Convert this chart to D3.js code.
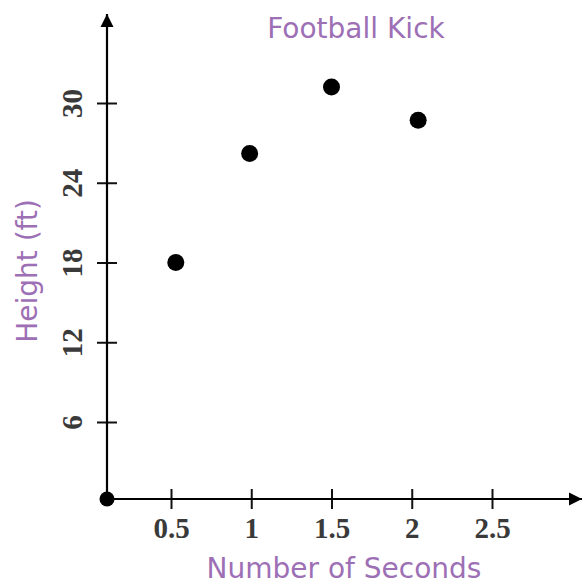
<!DOCTYPE html>
<html>
<head>
<meta charset="utf-8">
<script src="https://cdn.jsdelivr.net/npm/d3@7"></script>
<style>
  body { margin: 0; background: #fff; }
  .tick-label { font-family: "Liberation Serif", "Times New Roman", serif; font-weight: bold; font-size: 29px; fill: #3a3a3a; }
  .axis-title { font-family: "DejaVu Sans", sans-serif; font-weight: normal; fill: #9d6fb5; }
</style>
</head>
<body>
<div id="chart"></div>
<script>
// ============== Data ==============
const seconds = [0.53, 0.99, 1.5, 2.04];
const heights = [18, 26.2, 31.2, 28.7];
const xTicks = [0.5, 1, 1.5, 2, 2.5];
const xTickLabels = ['0.5', '1', '1.5', '2', '2.5'];
const yTicks = [6, 12, 18, 24, 30];

const width = 583, height = 586;
const ox = 107, oy = 499; // corner of the axes

const svg = d3.select('#chart')
  .append('svg')
  .attr('width', width)
  .attr('height', height);

// ============== Scales ==============
const x = d3.scaleLinear()
  .domain([0.5, 2.5])
  .range([171, 492]);

const y = d3.scaleLinear()
  .domain([6, 30])
  .range([422, 103]);

// ============== Arrow Heads ==============
svg.append('defs')
  .append('marker')
    .attr('id', 'arrow')
    .attr('viewBox', '0 0 10 10')
    .attr('refX', 10)
    .attr('refY', 5)
    .attr('markerWidth', 6)
    .attr('markerHeight', 6)
    .attr('markerUnits', 'strokeWidth')
    .attr('orient', 'auto')
  .append('path')
    .attr('d', 'M0,0 L10,5 L0,10 Z')
    .attr('fill', '#000');

// ============== Axes ==============
const xAxis = svg.append('g')
  .attr('transform', `translate(0,${oy})`)
  .call(d3.axisBottom(x).tickValues(xTicks).tickFormat((d, i) => xTickLabels[i]));

xAxis.select('.domain').remove();
xAxis.selectAll('.tick line')
  .attr('y1', -10).attr('y2', 10)
  .attr('stroke', '#111').attr('stroke-width', 2);
xAxis.selectAll('.tick text')
  .attr('class', 'tick-label')
  .attr('y', 39).attr('dy', 0);

const yAxis = svg.append('g')
  .attr('transform', `translate(${ox},0)`)
  .call(d3.axisLeft(y).tickValues(yTicks));

yAxis.select('.domain').remove();
yAxis.selectAll('.tick line')
  .attr('x1', -10).attr('x2', 10)
  .attr('stroke', '#111').attr('stroke-width', 2);
yAxis.selectAll('.tick text')
  .attr('class', 'tick-label')
  .attr('x', 0).attr('dy', 0)
  .attr('text-anchor', 'middle')
  .attr('transform', 'translate(-25,0) rotate(-90)');

svg.append('line')
  .attr('x1', ox).attr('y1', oy)
  .attr('x2', width - 1).attr('y2', oy)
  .attr('stroke', '#000').attr('stroke-width', 2.2)
  .attr('marker-end', 'url(#arrow)');

svg.append('line')
  .attr('x1', ox).attr('y1', oy)
  .attr('x2', ox).attr('y2', 14)
  .attr('stroke', '#000').attr('stroke-width', 2.2)
  .attr('marker-end', 'url(#arrow)');

// origin dot
svg.append('circle')
  .attr('cx', ox).attr('cy', oy)
  .attr('r', 7.5)
  .attr('fill', '#000');

// ============== Points ==============
svg.selectAll('.pt')
  .data(seconds)
  .enter()
  .append('circle')
    .attr('class', 'pt')
    .attr('cx', d => x(d))
    .attr('cy', (d, i) => y(heights[i]))
    .attr('r', 8.5)
    .attr('fill', '#000');

// ============== Titles ==============
svg.append('text')
  .attr('class', 'axis-title')
  .attr('x', 356).attr('y', 38)
  .attr('text-anchor', 'middle')
  .style('font-size', '28px')
  .text('Football Kick');

svg.append('text')
  .attr('class', 'axis-title')
  .attr('x', 344).attr('y', 578)
  .attr('text-anchor', 'middle')
  .style('font-size', '28px')
  .text('Number of Seconds');

svg.append('text')
  .attr('class', 'axis-title')
  .attr('text-anchor', 'middle')
  .attr('transform', 'translate(37,271) rotate(-90)')
  .style('font-size', '28px')
  .text('Height (ft)');
</script>
</body>
</html>
